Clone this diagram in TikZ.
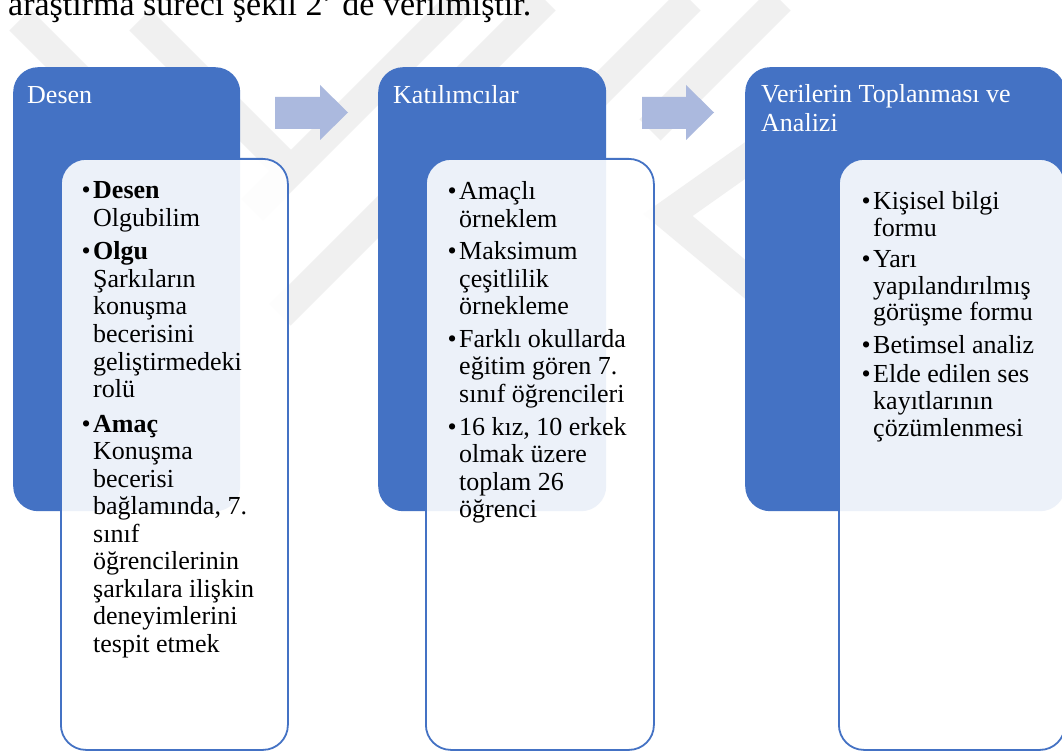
\documentclass[tikz,border=0pt]{standalone}
\usepackage{fontspec}
\setmainfont{Liberation Serif}
\definecolor{pblue}{HTML}{4472C4}
\definecolor{parrow}{HTML}{ABB9DE}
\definecolor{wm}{HTML}{F0F0F0}
\newcommand\bul{\llap{•\hspace{2.5pt}}}
\newcommand\lns[1]{\begin{tabular}[t]{@{}l@{}}#1\end{tabular}}
\begin{document}
\begin{tikzpicture}[x=1pt,y=-1pt,
  panel/.style={fill=pblue, rounded corners=25pt, shape=rectangle, anchor=north west, inner sep=0, minimum width=#1, minimum height=444pt},
  card/.style={fill=white, fill opacity=0.9, draw=pblue, line width=1.8pt, rounded corners=25pt, shape=rectangle, anchor=north west, inner sep=0, minimum width=#1, minimum height=591pt},
  title/.style={text=white, font=\fontsize{26}{29}\selectfont, anchor=base west, inner sep=0},
  item/.style={font=\fontsize{26}{27.5}\selectfont, anchor=base west, inner sep=0},
  itemc/.style={font=\fontsize{26}{27}\selectfont, anchor=base west, inner sep=0},
  flow/.style={fill=parrow},
  wmark/.style={draw=wm, line width=30pt}]
\useasboundingbox (0,0) rectangle (1062,751);
\clip (0,0) rectangle (1062,751);
\fill[white] (0,0) rectangle (1062,751);
% watermark
\draw[wmark] (462,0) -- (252,210);
\draw[wmark] (545,0) -- (395,150);
\draw[wmark] (690,0) -- (560,130);
\draw[wmark] (780,0) -- (650,130);
\draw[wmark] (420,175) -- (280,315);
\draw[wmark] (20,20) -- (200,200);
\draw[wmark] (140,20) -- (300,180);
\draw[wmark] (760,150) -- (668,215) -- (770,300);
% top text
\node[font=\fontsize{34}{34}\selectfont, anchor=base west, inner sep=0] (intro) at (8,16) {araştırma süreci şekil 2’ de verilmiştir.};
% panels
\node[panel=227pt] (p1) at (13,67) {};
\node[panel=228pt] (p2) at (378,67) {};
\node[panel=320pt] (p3) at (745,67) {};
\node[card=227pt] (c1) at (60,158) {};
\node[card=228pt] (c2) at (425,158) {};
\node[card=226pt] (c3) at (838,158) {};
% arrows
\fill[flow] (275,97) -- (320,97) -- (320,85) -- (348,112.5) -- (320,140) -- (320,129) -- (275,129) -- cycle;
\fill[flow] (642,97) -- (686,97) -- (686,85) -- (714,112.5) -- (686,140) -- (686,129) -- (642,129) -- cycle;
% titles
\node[title] (t1) at (27,104) {Desen};
\node[title] (t2) at (393,104) {Katılımcılar};
\node[title] (t3) at (761,103) {\lns{Verilerin Toplanması ve\\Analizi}};
% panel 1 items
\node[item] (a1) at (93,199) {\lns{\bul\textbf{Desen}\\Olgubilim}};
\node[item] (a2) at (93,260) {\lns{\bul\textbf{Olgu}\\Şarkıların\\konuşma\\becerisini\\geliştirmedeki\\rolü}};
\node[item] (a3) at (93,432) {\lns{\bul\textbf{Amaç}\\Konuşma\\becerisi\\bağlamında, 7.\\sınıf\\öğrencilerinin\\şarkılara ilişkin\\deneyimlerini\\tespit etmek}};
% panel 2 items
\node[item] (b1) at (459,200) {\lns{\bul Amaçlı\\örneklem}};
\node[item] (b2) at (459,260) {\lns{\bul Maksimum\\çeşitlilik\\örnekleme}};
\node[item] (b3) at (459,347) {\lns{\bul Farklı okullarda\\eğitim gören 7.\\sınıf öğrencileri}};
\node[item] (b4) at (459,435) {\lns{\bul 16 kız, 10 erkek\\olmak üzere\\toplam 26\\öğrenci}};
% panel 3 items
\node[itemc] (d1) at (873,210) {\lns{\bul Kişisel bilgi\\formu}};
\node[itemc] (d2) at (873,267) {\lns{\bul Yarı\\yapılandırılmış\\görüşme formu}};
\node[itemc] (d3) at (873,353) {\lns{\bul Betimsel analiz}};
\node[itemc] (d4) at (873,382) {\lns{\bul Elde edilen ses\\kayıtlarının\\çözümlenmesi}};
\end{tikzpicture}
\end{document}
